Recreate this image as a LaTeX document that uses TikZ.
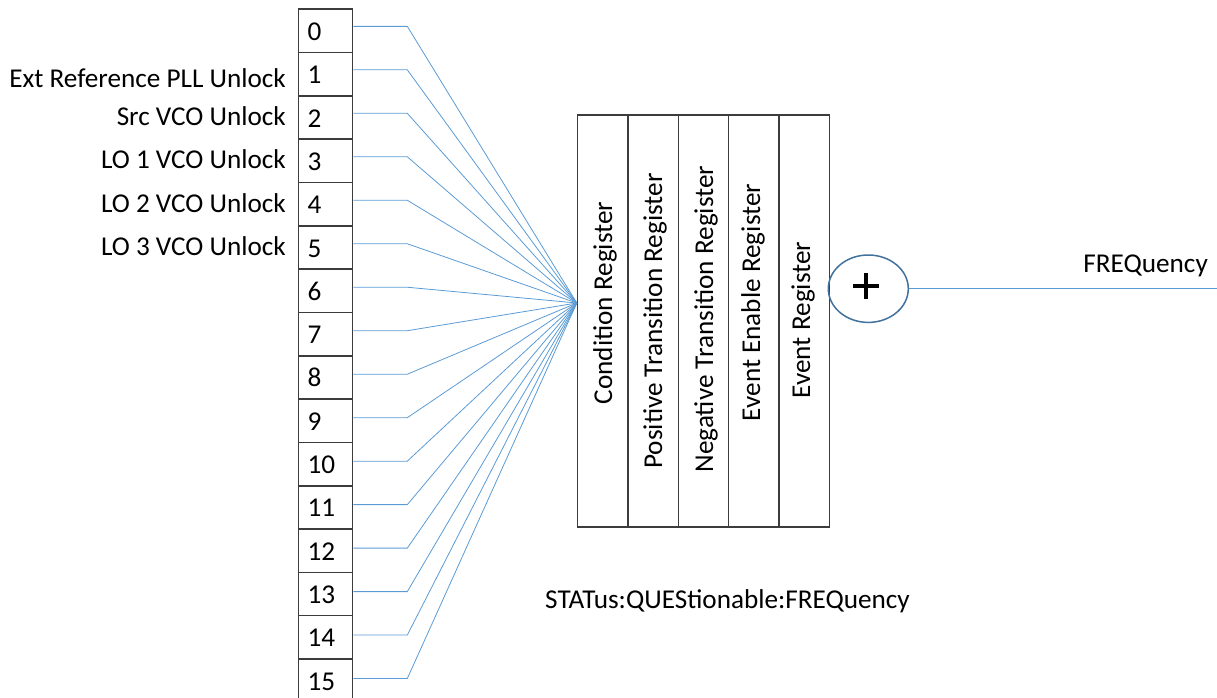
\documentclass[tikz,border=0pt]{standalone}
\usepackage{fontspec}
\setmainfont{Carlito}
\usetikzlibrary{shapes.geometric,calc}
\definecolor{wireblue}{RGB}{91,155,213}
\definecolor{ringblue}{RGB}{65,113,156}
\definecolor{boxgray}{RGB}{60,60,60}
\newcommand\dgmfont{\fontsize{27.2}{31}\selectfont}
\begin{document}
\begin{tikzpicture}[x=1pt,y=-1pt,
  cellbox/.style={draw=boxgray, line width=1.6pt, minimum width=54pt,
    minimum height=43.35pt, inner sep=0pt},
  regbox/.style={draw=boxgray, line width=1.4pt, minimum width=50.4pt,
    minimum height=412pt, inner sep=0pt},
  txt/.style={font=\dgmfont, inner sep=0pt, text=black},
  vtxt/.style={txt, rotate=90, anchor=base},
  wire/.style={draw=wireblue, line width=0.8pt}]
\useasboundingbox (0,0) rectangle (1217,698);

% 16-bit register column with bit numbers
\foreach \i in {0,...,15}{
  \node[cellbox] (c\i) at (325.5,{9.3+43.31*(\i+0.5)}) {};
  \node[txt, anchor=base west] (d\i) at (307.5,{40.5+43.31*\i}) {\i};
}

% bit descriptions
\node[txt, anchor=base east] (l1) at (286,88) {Ext Reference PLL Unlock};
\node[txt, anchor=base east] (l2) at (286,125) {Src VCO Unlock};
\node[txt, anchor=base east] (l3) at (286,168) {LO 1 VCO Unlock};
\node[txt, anchor=base east] (l4) at (286,212) {LO 2 VCO Unlock};
\node[txt, anchor=base east] (l5) at (286,255) {LO 3 VCO Unlock};

% register stack
\node[regbox] (r1) at (602.7,321) {};
\node[regbox] (r2) at (653.1,321) {};
\node[regbox] (r3) at (703.5,321) {};
\node[regbox] (r4) at (753.9,321) {};
\node[regbox] (r5) at (804.3,321) {};
\node[vtxt] (t1) at (612,303) {Condition Register};
\node[vtxt] (t2) at (662,321) {Positive Transition Register};
\node[vtxt] (t3) at (713,319) {Negative Transition Register};
\node[vtxt] (t4) at (760,302.5) {Event Enable Register};
\node[vtxt] (t5) at (810,320) {Event Register};

% fan-in of all bits to the condition register
\coordinate (hub) at ([yshift=18pt]r1.west);
\foreach \i in {0,...,15}{
  \draw[wire] ([yshift={4.6-0.17*\i}]c\i.east) -- ++(54,0) -- (hub);
}

% summary OR and its output
\node[ellipse, draw=ringblue, line width=1.5pt, minimum width=80pt,
  minimum height=67.4pt, inner sep=0pt] (sum) at (868.3,288.7) {};
\draw[line width=3.6pt] ([xshift=-15.3pt,yshift=3pt]sum.center) -- ++(26,0);
\draw[line width=3.6pt] ([xshift=-2.3pt,yshift=16pt]sum.center) -- ++(0,26);
\coordinate (out) at (1217,288.7);
\draw[wire] (sum.east) -- (out);
\node[txt, anchor=base east] (outlbl) at (1208,272) {FREQuency};

\node[txt, anchor=base west] (title) at (545,608) {STATus:QUEStionable:FREQuency};
\end{tikzpicture}
\end{document}
